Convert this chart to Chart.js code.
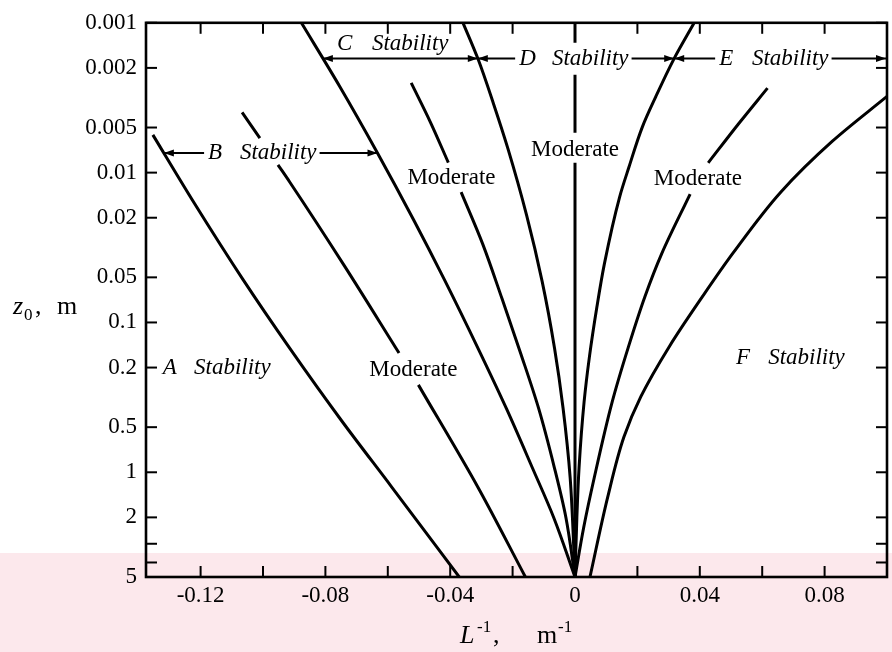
<!DOCTYPE html>
<html>
<head>
<meta charset="utf-8">
<title>Pasquill stability classes vs. roughness length and inverse Obukhov length</title>
<script src="https://cdn.jsdelivr.net/npm/chart.js@4.4.1/dist/chart.umd.min.js"></script>
<style>
  html, body { margin: 0; padding: 0; background: #fff; }
  canvas { display: block; }
</style>
</head>
<body>
<canvas id="chart" width="892" height="652"></canvas>
<script>
// ---- Tick values and labels -------------------------------------------
const xTickValues = [-0.12, -0.10, -0.08, -0.06, -0.04, -0.02, 0, 0.02, 0.04, 0.06, 0.08];
const xTickLabels = ['-0.12', '', '-0.08', '', '-0.04', '', '0', '', '0.04', '', '0.08'];
const zTickValues = [0.001, 0.002, 0.005, 0.01, 0.02, 0.05, 0.1, 0.2, 0.5, 1, 2, 3, 4, 5];
const zTickLabels = ['0.001', '0.002', '0.005', '0.01', '0.02', '0.05', '0.1', '0.2', '0.5', '1', '2', '', '', '5'];

// ---- Curves: [L^-1 (1/m), z0 (m)]; null breaks a line where a label sits ----
const curveAB = [[-0.1353, 0.0056], [-0.1221, 0.0159], [-0.1065, 0.0514], [-0.0914, 0.149],
                 [-0.0748, 0.453], [-0.0588, 1.25], [-0.0371, 5]];
const moderateB = [[-0.1067, 0.00396], [-0.1010, 0.00588], null, [-0.0952, 0.00887], [-0.0915, 0.0115],
                   [-0.0739, 0.0419], [-0.0564, 0.160], null, [-0.0502, 0.261], [-0.0312, 1.25],
                   [-0.0159, 5]];
const curveBC = [[-0.0877, 0.001], [-0.0755, 0.00264], [-0.0634, 0.00733], [-0.0517, 0.0207],
                 [-0.0419, 0.0516], [-0.0310, 0.150], [-0.0220, 0.375], [-0.0136, 0.94],
                 [-0.0068, 2.01], [0, 5]];
const moderateC = [[-0.0525, 0.00252], [-0.0464, 0.00458], [-0.0406, 0.00857], null,
                   [-0.0365, 0.0135], [-0.0296, 0.0299], [-0.0234, 0.0693], [-0.0174, 0.161],
                   [-0.0117, 0.372], [-0.0066, 0.933], [-0.0029, 2.01], [0, 5]];
const curveCD = [[-0.0359, 0.001], [-0.0311, 0.00174], [-0.0261, 0.00348], [-0.0215, 0.00692],
                 [-0.0155, 0.0193], [-0.01055, 0.053], [-0.00657, 0.148], [-0.00384, 0.371],
                 [-0.00156, 1.08], [0, 5]];
const moderateD = [[0, 0.001], [0, 0.00136], null, [0, 0.00222], [0, 0.00542], null, [0, 0.0086], [0, 5]];
const curveDE = [[0.0382, 0.001], [0.0316, 0.00176], [0.0259, 0.00311], [0.0216, 0.00495],
                 [0.0173, 0.00918], [0.0143, 0.01455], [0.0094, 0.0408], [0.0070, 0.0793],
                 [0.0046, 0.171], [0.0029, 0.342], [0.0013, 0.93], [0.0006, 2.0], [0, 5]];
const moderateE = [[0.0617, 0.00273], [0.0525, 0.0047], [0.0427, 0.0086], null, [0.0369, 0.0139],
                   [0.0278, 0.0347], [0.0224, 0.0673], [0.0171, 0.146], [0.0119, 0.340],
                   [0.0062, 1.08], [0.0028, 2.33], [0, 5]];
const curveEF = [[0.1000, 0.0031], [0.0825, 0.00617], [0.0660, 0.01346], [0.0508, 0.0341],
                 [0.0410, 0.0665], [0.0303, 0.144], [0.0211, 0.313], [0.0157, 0.58],
                 [0.0105, 1.46], [0.0048, 5]];

// ---- Text placed on the plot (data units) --------------------------------
const classLabels = [
  { letter: 'A', x: -0.1321, wordX: -0.1221, z: 0.2 },
  { letter: 'B', x: -0.1176, wordX: -0.1074, z: 0.0074, from: curveAB, to: curveBC },
  { letter: 'C', x: -0.0763, wordX: -0.0651, z: 0.00139 },
  { letter: 'D', x: -0.0179, wordX: -0.0074, z: 0.00173, from: curveCD, to: curveDE },
  { letter: 'E', x: 0.0462, wordX: 0.0567, z: 0.00173, from: curveDE, to: 'edge' },
  { letter: 'F', x: 0.0516, wordX: 0.0619, z: 0.173 }
];
const cArrow = { z: 0.00173, from: curveBC, to: curveCD };
const moderateLabels = [
  { x: -0.0518, z: 0.209 },
  { x: -0.0396, z: 0.0109 },
  { x: 0, z: 0.0071 },
  { x: 0.0394, z: 0.0110 }
];

const SERIF = '"Liberation Serif", "Times New Roman", serif';

function toPoints(pairs) {
  const out = [];
  let lastX = 0;
  pairs.forEach(p => {
    if (p) { out.push({ x: p[0], y: p[1] }); lastX = p[0]; }
    else { out.push({ x: lastX, y: null }); }
  });
  return out;
}

function curveXAt(curve, z) {
  const lz = Math.log10(z);
  const pts = curve.filter(Boolean);
  for (let i = 0; i < pts.length - 1; i++) {
    const a = Math.log10(pts[i][1]), b = Math.log10(pts[i + 1][1]);
    if ((lz - a) * (lz - b) <= 0 && a !== b) {
      const t = (lz - a) / (b - a);
      return pts[i][0] + t * (pts[i + 1][0] - pts[i][0]);
    }
  }
  return pts[0][0];
}

function arrowHead(ctx, x, y, dir) {
  ctx.beginPath();
  ctx.moveTo(x, y);
  ctx.lineTo(x - dir * 10, y - 3.5);
  ctx.lineTo(x - dir * 10, y + 3.5);
  ctx.closePath();
  ctx.fill();
}

function hLine(ctx, x1, x2, y) {
  ctx.beginPath();
  ctx.moveTo(x1, y);
  ctx.lineTo(x2, y);
  ctx.stroke();
}

function vLine(ctx, x, y1, y2) {
  ctx.beginPath();
  ctx.moveTo(x, y1);
  ctx.lineTo(x, y2);
  ctx.stroke();
}

// Pale band along the bottom of the page
const backdrop = {
  id: 'backdrop',
  beforeDraw(chart) {
    const ctx = chart.ctx;
    ctx.save();
    ctx.fillStyle = '#ffffff';
    ctx.fillRect(0, 0, chart.width, chart.height);
    ctx.fillStyle = '#fce8ec';
    ctx.fillRect(0, 553, chart.width, chart.height - 553);
    ctx.restore();
  }
};

// Frame, inward tick marks, axis titles and in-plot labels
const decorations = {
  id: 'decorations',
  afterDraw(chart) {
    const ctx = chart.ctx;
    const xs = chart.scales.x, ys = chart.scales.y;
    const a = chart.chartArea;
    ctx.save();
    ctx.strokeStyle = '#000';
    ctx.fillStyle = '#000';

    // frame
    ctx.lineWidth = 2.6;
    ctx.strokeRect(a.left, a.top, a.right - a.left, a.bottom - a.top);

    // inward ticks on all four sides
    ctx.lineWidth = 2;
    const tl = 11;
    xTickValues.forEach(v => {
      const px = xs.getPixelForValue(v);
      vLine(ctx, px, a.bottom, a.bottom - tl);
      vLine(ctx, px, a.top, a.top + tl);
    });
    zTickValues.forEach(v => {
      const py = ys.getPixelForValue(v);
      hLine(ctx, a.left, a.left + tl, py);
      hLine(ctx, a.right, a.right - tl, py);
    });

    // axis titles
    ctx.textAlign = 'left';
    ctx.textBaseline = 'alphabetic';
    ctx.font = 'italic 26px ' + SERIF;
    ctx.fillText('z', 13, 314);
    ctx.font = '17px ' + SERIF;
    ctx.fillText('0', 24, 320);
    ctx.font = '26px ' + SERIF;
    ctx.fillText(',', 35, 314);
    ctx.fillText('m', 57, 314);

    const tx = xs.getPixelForValue(0);
    ctx.font = 'italic 26px ' + SERIF;
    ctx.fillText('L', tx - 115, 643);
    ctx.font = '17px ' + SERIF;
    ctx.fillText('-1', tx - 98, 632);
    ctx.font = '26px ' + SERIF;
    ctx.fillText(',', tx - 82, 643);
    ctx.fillText('m', tx - 38, 643);
    ctx.font = '17px ' + SERIF;
    ctx.fillText('-1', tx - 17, 632);

    // stability classes
    ctx.lineWidth = 2;
    ctx.textBaseline = 'middle';
    ctx.textAlign = 'left';
    const italic = 'italic 23px ' + SERIF;
    classLabels.forEach(l => {
      const y = ys.getPixelForValue(l.z);
      const lx = xs.getPixelForValue(l.x);
      const wx = xs.getPixelForValue(l.wordX);
      ctx.font = italic;
      ctx.fillText(l.letter, lx, y);
      ctx.fillText('Stability', wx, y);
      const wEnd = wx + ctx.measureText('Stability').width;
      if (l.from) {
        const fx = xs.getPixelForValue(curveXAt(l.from, l.z));
        hLine(ctx, fx, lx - 4, y);
        arrowHead(ctx, fx, y, -1);
        const ex = l.to === 'edge' ? a.right - 1 : xs.getPixelForValue(curveXAt(l.to, l.z));
        hLine(ctx, wEnd + 3, ex, y);
        arrowHead(ctx, ex, y, 1);
      }
    });
    {
      const y = ys.getPixelForValue(cArrow.z);
      const fx = xs.getPixelForValue(curveXAt(cArrow.from, cArrow.z));
      const ex = xs.getPixelForValue(curveXAt(cArrow.to, cArrow.z));
      hLine(ctx, fx, ex, y);
      arrowHead(ctx, fx, y, -1);
      arrowHead(ctx, ex, y, 1);
    }

    // "Moderate" labels
    ctx.font = '23px ' + SERIF;
    ctx.textAlign = 'center';
    moderateLabels.forEach(m => {
      ctx.fillText('Moderate', xs.getPixelForValue(m.x), ys.getPixelForValue(m.z));
    });
    ctx.restore();
  }
};

const lineStyle = {
  showLine: true,
  borderColor: '#000',
  backgroundColor: '#000',
  borderWidth: 3,
  pointRadius: 0,
  pointHoverRadius: 0,
  fill: false,
  spanGaps: false,
  cubicInterpolationMode: 'monotone',
  indexAxis: 'y'
};

const series = [curveAB, moderateB, curveBC, moderateC, curveCD, moderateD, curveDE, moderateE, curveEF];
const names = ['A/B', 'B moderate', 'B/C', 'C moderate', 'C/D', 'D moderate', 'D/E', 'E moderate', 'E/F'];

new Chart(document.getElementById('chart'), {
  type: 'scatter',
  data: {
    datasets: series.map((s, i) => Object.assign({ label: names[i], data: toPoints(s) }, lineStyle))
  },
  options: {
    responsive: false,
    animation: false,
    devicePixelRatio: 1,
    indexAxis: 'y',
    layout: { padding: { top: 22, right: 5, left: 0, bottom: 0 } },
    plugins: { legend: { display: false }, tooltip: { enabled: false }, title: { display: false } },
    scales: {
      x: {
        type: 'linear',
        min: -0.1375,
        max: 0.1,
        grid: { display: false, drawTicks: false },
        border: { display: false },
        afterBuildTicks: s => { s.ticks = xTickValues.map(v => ({ value: v })); },
        afterFit: s => { s.height = 75; },
        ticks: {
          autoSkip: false,
          maxRotation: 0,
          padding: 5,
          color: '#000',
          font: { family: SERIF, size: 23 },
          callback: v => {
            const i = xTickValues.findIndex(t => Math.abs(t - v) < 1e-9);
            return i >= 0 ? xTickLabels[i] : '';
          }
        }
      },
      y: {
        type: 'logarithmic',
        reverse: true,
        min: 0.001,
        max: 5,
        grid: { display: false, drawTicks: false },
        border: { display: false },
        afterBuildTicks: s => { s.ticks = zTickValues.map(v => ({ value: v })); },
        afterFit: s => { s.width = 146; },
        ticks: {
          autoSkip: false,
          padding: 9,
          color: '#000',
          font: { family: SERIF, size: 23 },
          callback: v => {
            const i = zTickValues.findIndex(t => Math.abs(t - v) / t < 1e-6);
            return i >= 0 ? zTickLabels[i] : '';
          }
        }
      }
    }
  },
  plugins: [backdrop, decorations]
});
</script>
</body>
</html>
